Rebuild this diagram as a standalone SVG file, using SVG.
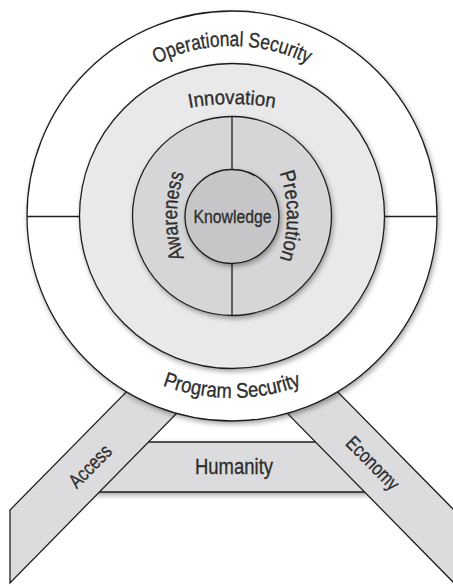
<svg xmlns="http://www.w3.org/2000/svg" width="453" height="586" viewBox="0 0 453 586">
<defs>
<filter id="sh" x="-20%" y="-20%" width="140%" height="140%">
<feDropShadow dx="1.5" dy="2.5" stdDeviation="2.5" flood-color="#000" flood-opacity="0.35"/>
</filter>
<path id="pOp" d="M62,216 A170,170 0 0 1 402,216"/>
<path id="pInn" d="M2,334 A230,230 0 0 1 462,334"/>
<path id="pProg" d="M32,198 A200,200 0 0 0 432,198"/>
<path id="pAw" d="M307,346 A130,130 0 0 1 307,86"/>
<path id="pPre" d="M157,86 A130,130 0 0 1 157,346"/>
</defs>
<style>
.ln{stroke:#1e1e1e;stroke-width:1.3;fill:none}
.sh{stroke:#1e1e1e;stroke-width:1.3}
.t{font-family:"Liberation Sans Narrow","Liberation Sans",Arial,sans-serif;fill:#2e2e2e;stroke:#2e2e2e;stroke-width:0.35;text-anchor:middle}
</style>
<rect width="453" height="586" fill="#fff"/>
<g id="humanity">
<polygon class="sh" points="130,442 340,442 390,492 80,492" fill="#dcdcde" filter="url(#sh)"/>
<text class="t" transform="translate(234,474) scale(0.84,1)" font-size="22">Humanity</text>
</g>
<g id="access">
<polygon class="sh" points="165,352.6 10,510 10,583 210,379.4" fill="#dcdcde"/>
<text class="t" transform="translate(90,466) rotate(-45.3) scale(0.8,1)" y="7" font-size="20">Access</text>
</g>
<g id="economy">
<polygon class="sh" points="299,352.6 454,510 454,583 254,379.4" fill="#dcdcde"/>
<text class="t" transform="translate(373,463) rotate(45.3) scale(0.8,1)" y="7" font-size="20">Economy</text>
</g>
<g id="operational-security">
<circle class="sh" cx="232" cy="216" r="205" fill="#fff" filter="url(#sh)"/>
<text class="t" font-size="21"><textPath href="#pOp" startOffset="50%" textLength="157" lengthAdjust="spacingAndGlyphs">Operational Security</textPath></text>
<text class="t" font-size="21"><textPath href="#pProg" startOffset="50%" textLength="142" lengthAdjust="spacingAndGlyphs">Program Security</textPath></text>
</g>
<g id="innovation">
<circle class="sh" cx="232" cy="216" r="152.5" fill="#e9e9ea" filter="url(#sh)"/>
<text class="t" font-size="20"><textPath href="#pInn" startOffset="50%" textLength="86" lengthAdjust="spacingAndGlyphs">Innovation</textPath></text>
</g>
<g id="awareness-precaution">
<circle class="sh" cx="232" cy="216" r="99.5" fill="#d6d6d8" filter="url(#sh)"/>
<text class="t" font-size="21"><textPath href="#pAw" startOffset="50%" textLength="86" lengthAdjust="spacingAndGlyphs">Awareness</textPath></text>
<text class="t" font-size="21"><textPath href="#pPre" startOffset="50%" textLength="88" lengthAdjust="spacingAndGlyphs">Precaution</textPath></text>
</g>
<g id="connectors">
<line class="ln" x1="27" y1="216.5" x2="80" y2="216.5"/>
<line class="ln" x1="384" y1="216.5" x2="437" y2="216.5"/>
<line class="ln" x1="232" y1="117" x2="232" y2="170"/>
<line class="ln" x1="232" y1="262" x2="232" y2="316"/>
</g>
<g id="knowledge">
<circle class="sh" cx="232" cy="216.5" r="47" fill="#c6c6c8" filter="url(#sh)"/>
<text class="t" transform="translate(232.5,222.5) scale(0.83,1)" font-size="19">Knowledge</text>
</g>
</svg>
